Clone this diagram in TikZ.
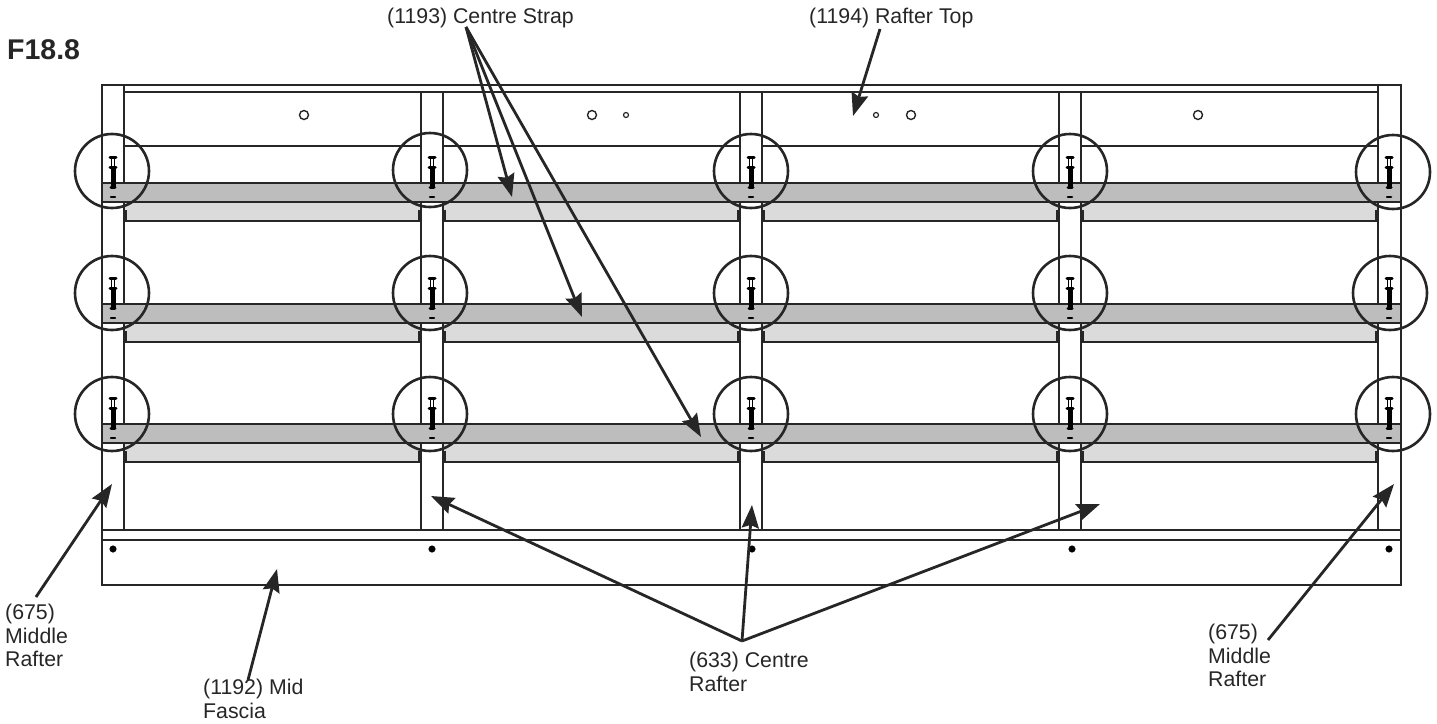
\documentclass[tikz,border=0pt]{standalone}
\usepackage{fontspec}
\setmainfont{Liberation Sans}
\usetikzlibrary{arrows.meta}
\definecolor{strapdark}{gray}{0.74}
\definecolor{straplight}{gray}{0.86}
\definecolor{inkline}{gray}{0.15}
\tikzset{
  part/.style={draw=inkline, line width=1.2pt},
  callout/.style={draw=inkline, line width=2.8pt, -{Stealth[length=23pt,width=17pt,inset=3pt]}},
  ringmark/.style={circle, draw=inkline, line width=2.6pt, minimum size=74pt, inner sep=0pt},
  hole/.style={circle, draw=inkline, line width=1.4pt, minimum size=9pt, inner sep=0pt},
  smallhole/.style={circle, draw=inkline, line width=1.2pt, minimum size=5pt, inner sep=0pt},
  pin/.style={circle, fill=black, draw=black, line width=.5pt, minimum size=6.5pt, inner sep=0pt},
  lbl/.style={font=\fontsize{21.3}{23.6}\selectfont, text=inkline, align=left, inner sep=0pt, anchor=north west},
}
\begin{document}
\begin{tikzpicture}[x=1pt, y=-1pt]
\useasboundingbox (0,0) rectangle (1437,723);

% fascia
\draw[part] (102,530) rectangle (1401,585);
\draw[part] (102,540) -- (1401,540);

% top board
\draw[part] (102,85) -- (1401,85);
\draw[part] (124,92) -- (1378,92);
\draw[part] (124,146) -- (1378,146);

% rafters
\draw[part, fill=white] (102,85) rectangle (124,530);
\draw[part, fill=white] (1378,85) rectangle (1401,530);
\foreach \x in {421,740,1059}
{
\draw[part, fill=white] (\x,92) rectangle (\x+22,530);
}

% straps
\foreach \y in {183,304,424}
{
\foreach \x in {124,443,762,1081}
{
\draw[part, fill=straplight] (\x,\y+19) -- (\x,\y+28) -- (\x+2,\y+28) -- (\x+2,\y+38) -- (\x+295,\y+38) -- (\x+295,\y+28) -- (\x+297,\y+28) -- (\x+297,\y+19);
}
\draw[part, fill=strapdark] (102,\y) rectangle (1401,\y+19);
}

% bolts
\foreach \y in {157,278,398}
{
\foreach \x in {113,432,751,1070,1389}
{
\draw[black, line width=1pt] (\x-1.5,\y) -- (\x-1.5,\y+10) (\x+1.5,\y) -- (\x+1.5,\y+10);
\draw[black, line width=5pt] (\x,\y+9) -- (\x,\y+30);
\draw[black, line width=3pt, line cap=round] (\x-3,\y) -- (\x+3,\y);
\draw[black, line width=3pt, line cap=round] (\x-3,\y+10) -- (\x+3,\y+10);
\draw[black, line width=3pt, line cap=round] (\x-2,\y+30) -- (\x+2,\y+30);
\draw[black, line width=2.5pt, line cap=round] (\x-2,\y+40) -- (\x+2,\y+40);
}
}

% rings
\foreach \x/\y [count=\n] in {112/171,430/170,751/171,1070/171,1393/172,
112/293,430/293,751/293,1070/293,1390/293,
112/414,430/414,751/414,1070/414,1393/414}
\node[ringmark] (ring\n) at (\x,\y) {};

% holes
\foreach \x [count=\n] in {304,592,911,1198}
\node[hole] (hole\n) at (\x,115) {};
\foreach \x [count=\n] in {626,876}
\node[smallhole] (smallhole\n) at (\x,115) {};
\foreach \x [count=\n] in {113,432,752,1072,1389}
\node[pin] (pin\n) at (\x,549) {};

% labels
\node[anchor=north west, inner sep=0pt, text=inkline, font=\fontsize{28.5}{30}\selectfont\bfseries] (figno) at (7,39) {F18.8};
\node[lbl] (strap) at (387,8) {(1193) Centre Strap};
\node[lbl] (raftertop) at (809,8) {(1194) Rafter Top};
\node[lbl] (midleft) at (5,604) {(675)\\Middle\\Rafter};
\node[lbl] (midright) at (1208,624) {(675)\\Middle\\Rafter};
\node[lbl] (fascia) at (203,679) {(1192) Mid\\Fascia};
\node[lbl] (centre) at (689,652) {(633) Centre\\Rafter};

% arrow ends
\coordinate (strapfrom) at (466,27);
\coordinate (strapa) at (512,197);
\coordinate (strapb) at (582,317);
\coordinate (strapc) at (701,437);
\coordinate (centrefrom) at (742,641);
\coordinate (centrea) at (431,496);
\coordinate (centreb) at (752,505);
\coordinate (centrec) at (1100,504);
\coordinate (topfrom) at (880,29);
\coordinate (topto) at (853,116);
\coordinate (leftfrom) at (36,597);
\coordinate (leftto) at (112,484);
\coordinate (rightfrom) at (1268,640);
\coordinate (rightto) at (1394,484);
\coordinate (fasciafrom) at (248,680);
\coordinate (fasciato) at (277,569);

\foreach \a in {strapa,strapb,strapc}
\draw[callout] (strapfrom) -- (\a);
\foreach \a in {centrea,centreb,centrec}
\draw[callout] (centrefrom) -- (\a);
\draw[callout] (topfrom) -- (topto);
\draw[callout] (leftfrom) -- (leftto);
\draw[callout] (rightfrom) -- (rightto);
\draw[callout] (fasciafrom) -- (fasciato);
\end{tikzpicture}
\end{document}
